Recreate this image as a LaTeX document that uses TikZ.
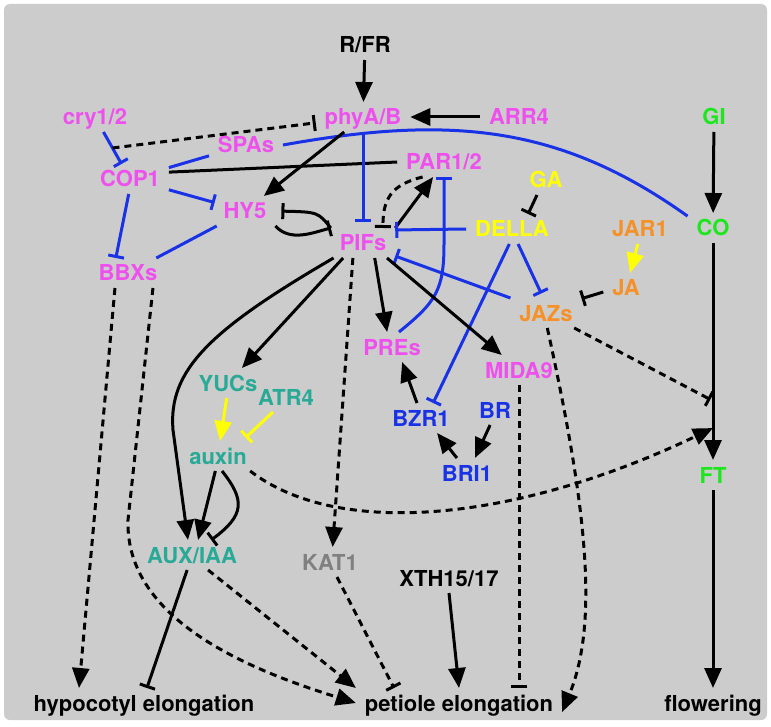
\documentclass[tikz,border=0pt]{standalone}
\usepackage{fontspec}
\setmainfont{TeX Gyre Heros}
\usetikzlibrary{arrows.meta,calc}
\definecolor{mag}{RGB}{238,80,238}
\definecolor{blu}{RGB}{25,50,230}
\definecolor{yel}{RGB}{255,255,0}
\definecolor{org}{RGB}{245,145,40}
\definecolor{grn}{RGB}{30,230,30}
\definecolor{tea}{RGB}{40,170,150}
\definecolor{gry}{RGB}{128,128,128}
\definecolor{bgc}{RGB}{204,204,204}
\tikzset{
	lbl/.style={font=\fontsize{22}{24}\selectfont\bfseries,text height=16pt,text depth=0pt,inner xsep=5pt,inner ysep=3pt,outer sep=4pt},
	act/.style={-{Triangle[length=20pt,width=17pt]}},
	inh/.style={-{Bar[width=16pt]}},
	ind/.style={dash pattern=on 7pt off 5pt}
}
\begin{document}
\begin{tikzpicture}[x=1pt,y=-1pt,line width=3pt]
		\useasboundingbox(0,0) rectangle(771,727);
		\fill[bgc,rounded corners=6pt](4,4) rectangle(767,720);
		\node[lbl](RFR) at(365,45){R/FR};
		\node[lbl,mag](phyAB) at(363,117){phyA/B};
		\node[lbl,mag](ARR4) at(519,117){ARR4};
		\node[lbl,grn](GI) at(714,117){GI};
		\node[lbl,mag](cry) at(95,117){cry1/2};
		\node[lbl,mag](SPAs) at(246,145){SPAs};
		\node[lbl,mag](COP1) at(130,179){COP1};
		\node[lbl,mag](PAR) at(444,162){PAR1/2};
		\node[lbl,yel](GA) at(546,180){GA};
		\node[lbl,mag](HY5) at(245,211){HY5};
		\node[lbl,mag](PIFs) at(363,243){PIFs};
		\node[lbl,yel](DELLA) at(512,229){DELLA};
		\node[lbl,org](JAR1) at(640,229){JAR1};
		\node[lbl,grn](CO) at(713,228){CO};
		\node[lbl,mag](BBXs) at(128,273){BBXs};
		\node[lbl,org](JA) at(626,288){JA};
		\node[lbl,org](JAZs) at(546,313){JAZs};
		\node[lbl,mag](PREs) at(392,347){PREs};
		\node[lbl,mag](MIDA9) at(519,370){MIDA9};
		\node[lbl,tea](YUCs) at(228,383){YUCs};
		\node[lbl,tea](ATR4) at(286,397){ATR4};
		\node[lbl,blu](BR) at(495,410){BR};
		\node[lbl,blu](BZR1) at(421,418){BZR1};
		\node[lbl,tea](auxin) at(218,456){auxin};
		\node[lbl,blu](BRI1) at(467,473){BRI1};
		\node[lbl,grn](FT) at(713,475){FT};
		\node[lbl,tea](AUXIAA) at(192,555){AUX/IAA};
		\node[lbl,gry](KAT1) at(330,562){KAT1};
		\node[lbl](XTH) at(449,578){XTH15/17};
		\node[lbl](hypo) at(144,703){hypocotyl elongation};
		\node[lbl](petiole) at(459,703){petiole elongation};
		\node[lbl](flower) at(713,703){flowering};
		\coordinate(crym) at($(cry)!0.5!(COP1)$);
		\coordinate(ft1) at($(CO)!0.7!(FT)$);
		\coordinate(ft2) at($(CO)!0.81!(FT)$);
		\draw[act](RFR)--(phyAB);
		\draw[act](ARR4)--(phyAB);
		\draw[act](GI)--(CO);
		\draw[act](CO)--(FT);
		\draw[act](FT)--(flower);
		\draw[inh,blu](cry)--(COP1);
		\draw[inh,ind](crym)--(phyAB);
		\draw[blu](COP1)--(SPAs);
		\draw[blu](SPAs.east)..controls(450,115) and (560,125)..(CO.155);
		\draw(COP1.10)--(PAR.west);
		\draw[inh,blu](COP1)--(HY5);
		\draw[inh,blu](COP1.-95)--(BBXs.129);
		\draw[blu](HY5)--(BBXs);
		\draw[act](phyAB)--(HY5);
		\draw[inh,blu,shorten >=6pt](phyAB)--(PIFs);
		\draw[inh,shorten >=6pt](PIFs.north west)..controls(318,212)..(HY5.east);
		\draw[inh](HY5.south east)..controls(290,242) and (312,233)..(PIFs.north west);
		\draw[act](PIFs.north east)--(PAR.234);
		\draw[inh,ind](PAR.215)..controls(390,185) and (383,200)..(PIFs.37);
		\draw[inh,blu](PREs.65)..controls(436,302) and (444,290)..(PAR.south|-DELLA.south)--(PAR.south);
		\draw[inh,blu](DELLA.west)--(PIFs.22);
		\draw[inh,blu](JAZs.north west)--(PIFs.-22);
		\draw[inh,blu,shorten >=5pt](DELLA.-68)--(JAZs.100);
		\draw[inh,blu](DELLA.-100)--(BZR1.51);
		\draw[inh](GA.239)--(DELLA.43);
		\draw[act,yel](JAR1.-98)--(JA.75);
		\draw[inh](JA.190)--(JAZs.22);
		\draw[inh,ind,shorten >=3pt](JAZs.-28)--(ft1);
		\draw[act,ind](JAZs.-85)..controls(585,500) and (600,620)..(petiole.-5);
		\draw[act](PIFs.-143)--(YUCs.47);
		\draw[act](PIFs.-153)..controls(210,330) and (168,370)..(173,430)--(AUXIAA.105);
		\draw[act](auxin.-100)--(AUXIAA.68);
		\draw[inh](auxin.-75)..controls(245,500) and (245,515)..(AUXIAA.38);
		\draw[act,yel](YUCs.-95)--(auxin.82);
		\draw[inh,yel,shorten >=5pt](ATR4.-131)--(auxin.32);
		\draw[act,ind](auxin.-25)..controls(340,540) and (520,520)..(ft2);
		\draw[act,ind](PIFs.-124)--(KAT1.80);
		\draw[act](PIFs.-52)--(PREs.108);
		\draw[act](PIFs.-32)--(MIDA9.139);
		\draw[act](BZR1.105)--(PREs.-56);
		\draw[act](BR.-108)--(BRI1.62);
		\draw[act](BRI1.124)--(BZR1.-43);
		\draw[inh,ind](MIDA9.south)--(MIDA9.south|-petiole.north);
		\draw[act](XTH.south)--(petiole.north);
		\draw[inh,ind](KAT1.-65)--(petiole.167);
		\draw[act,ind](AUXIAA.-43)--(petiole.north west);
		\draw[act,ind](BBXs.-31)--(128,520)..controls(125,620) and (250,670)..(petiole.west);
		\draw[act,ind](BBXs.-131)--(hypo.167);
		\draw[inh](AUXIAA.-108)--(hypo.79);
	    \end{tikzpicture}
\end{document}
